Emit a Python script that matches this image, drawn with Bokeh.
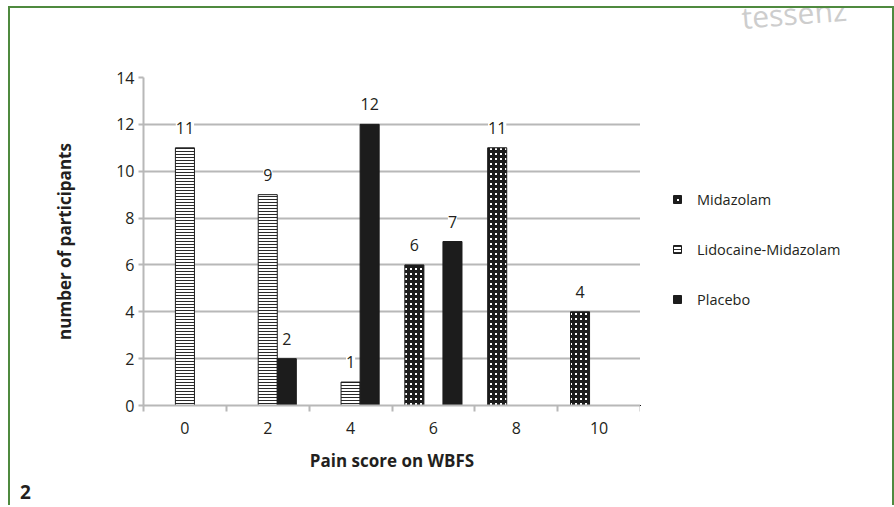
from bokeh.plotting import figure
from bokeh.models import (ColumnDataSource, FixedTicker, LabelSet, Legend, LegendItem,
                          Label, Column, Row, Div)
from bokeh.core.properties import value
from bokeh.embed import file_html
from bokeh.resources import INLINE

# ---- data ----
scores = [0, 2, 4, 6, 8, 10]
midazolam = [0, 0, 0, 6, 11, 4]
lidocaine = [11, 9, 1, 0, 0, 0]
placebo = [0, 2, 12, 7, 0, 0]
series_names = ["Midazolam", "Lidocaine-Midazolam", "Placebo"]
y_ticks = [0, 2, 4, 6, 8, 10, 12, 14]
x_boundaries = [-1, 1, 3, 5, 7, 9, 11]
x_label = "Pain score on WBFS"
y_label = "number of participants"
figure_number = "2"
watermark = "tessenz"

FONT = "Open Sans"
TXT = "#231f20"
GRID = "#b8b8b8"
GREEN = "#4f8a3f"
BW = 0.46  # bar width in score units

H = 472
LEFT, TOP, FW, FH = 133, 69, 497, 328
W_MAIN = LEFT + FW
W_SIDE = 882 - W_MAIN

p = figure(width=W_MAIN, height=H, x_range=(x_boundaries[0], x_boundaries[-1]),
           y_range=(0, y_ticks[-1]),
           output_backend="svg", toolbar_location=None,
           min_border_left=LEFT, min_border_right=0,
           min_border_top=TOP, min_border_bottom=H - TOP - FH)
p.outline_line_color = None
p.background_fill_color = "white"
p.border_fill_color = "white"
p.xgrid.grid_line_color = None
p.ygrid.ticker = FixedTicker(ticks=y_ticks[1:])
p.ygrid.grid_line_color = GRID
p.ygrid.grid_line_width = 2

offsets = [-BW, 0.0, BW]
vals = [midazolam, lidocaine, placebo]
styles = [
    dict(fill_color="white", hatch_pattern="+", hatch_color="#1c1c1c", hatch_scale=5, hatch_weight=3),
    dict(fill_color="white", hatch_pattern="-", hatch_color="#2a2a2a", hatch_scale=3, hatch_weight=1),
    dict(fill_color="#1c1c1c"),
]

sources = []
lx, ly, lt = [], [], []
for off, v, st in zip(offsets, vals, styles):
    xs = [s + off for s in scores]
    src = ColumnDataSource(dict(x=xs, top=v))
    sources.append(src)
    p.vbar(x="x", top="top", width=BW, bottom=0, source=src,
           line_color="#1c1c1c", line_width=1, **st)
    for xx, yy in zip(xs, v):
        if yy > 0:
            lx.append(xx); ly.append(yy); lt.append(str(yy))

lab_src = ColumnDataSource(dict(x=lx, y=ly, t=lt))
labels = LabelSet(x="x", y="y", text="t", source=lab_src, y_offset=20,
                  text_align="center", text_baseline="middle",
                  text_font=value(FONT), text_font_size=value("16px"), text_color=TXT,
                  background_fill_color="white")
p.add_layout(labels)

# axes
p.yaxis.ticker = FixedTicker(ticks=y_ticks)
p.yaxis.major_tick_out = 5
p.yaxis.major_tick_in = 0
p.yaxis.minor_tick_out = 0
p.yaxis.minor_tick_in = 0
p.yaxis.major_label_standoff = 4
p.yaxis.axis_label = y_label
p.yaxis.axis_label_standoff = 37

p.xaxis.ticker = FixedTicker(ticks=scores, minor_ticks=x_boundaries)
p.xaxis.major_tick_out = 0
p.xaxis.major_tick_in = 0
p.xaxis.minor_tick_out = 6
p.xaxis.minor_tick_in = 0
p.xaxis.major_label_standoff = 10
p.xaxis.axis_label = x_label
p.xaxis.axis_label_standoff = 12

for ax in (p.xaxis, p.yaxis):
    ax.axis_line_color = GRID
    ax.axis_line_width = 2
    ax.major_tick_line_color = GRID
    ax.major_tick_line_width = 2
    ax.minor_tick_line_color = GRID
    ax.minor_tick_line_width = 2
    ax.major_label_text_font = FONT
    ax.major_label_text_font_size = "16px"
    ax.major_label_text_color = TXT
    ax.axis_label_text_font = FONT
    ax.axis_label_text_font_size = "17px"
    ax.axis_label_text_font_style = "bold"
    ax.axis_label_text_color = TXT

# side panel holding the legend and the watermark (its ranges keep the bars out of view)
side = figure(width=W_SIDE, height=H, x_range=(100, 101), y_range=(100, 101),
              output_backend="svg", toolbar_location=None,
              min_border=0)
side.axis.visible = False
side.grid.grid_line_color = None
side.outline_line_color = None
side.border_fill_color = "white"
side.background_fill_color = "white"

side_renderers = [side.vbar(x="x", top="top", width=BW, bottom=0, source=src,
                            line_color="#1c1c1c", line_width=1, **st)
                  for src, st in zip(sources, styles)]

legend = Legend(items=[LegendItem(label=n, renderers=[r]) for n, r in zip(series_names, side_renderers)],
                location=(32, 96), orientation="vertical",
                glyph_width=10, glyph_height=10, label_standoff=15, spacing=30,
                label_height=20, padding=0, margin=0,
                border_line_color=None, background_fill_alpha=0,
                label_text_font=FONT, label_text_font_size="14.5px", label_text_color=TXT)
side.add_layout(legend)

side.add_layout(Label(x=101, y=9, x_units="canvas", y_units="canvas", text=watermark,
                      text_font=FONT, text_font_size="30px", text_color="#cdcdcd",
                      text_baseline="alphabetic", angle=0.08), "above")

num = Div(text=figure_number, width=60, height=25, margin=(0, 0, 0, 10),
          styles={"font-family": FONT, "font-weight": "bold", "font-size": "19px",
                  "color": TXT, "line-height": "25px"})

layout = Column(Row(p, side), num,
                styles={"border-left": f"2px solid {GREEN}",
                        "border-top": f"2px solid {GREEN}",
                        "border-right": f"2px solid {GREEN}",
                        "margin-left": "8px", "margin-top": "6px"})

open("out.html", "w").write(file_html(layout, INLINE))
